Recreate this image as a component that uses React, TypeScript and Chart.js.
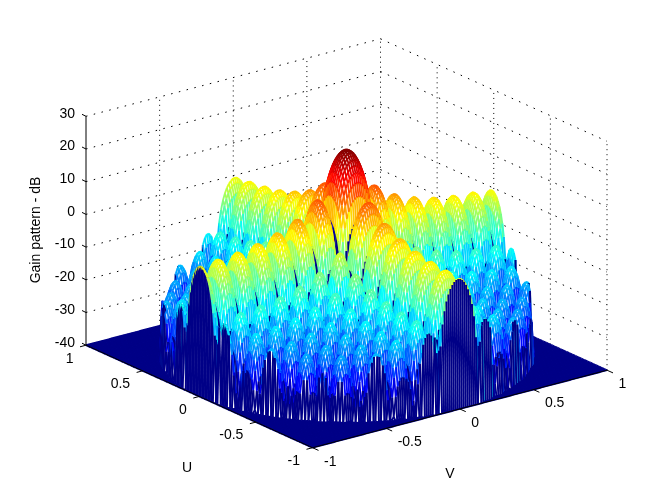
import { useEffect, useRef } from "react";
import { Chart, registerables } from "chart.js";

Chart.register(...registerables);

// Lobes sit on a square lattice, so a grid node is peak + cut(U) + cut(V).
const cutU = [
  0, -0.1, -0.6, -1.3, -2.4, -3.9, -5.9, -8.7, -12.6, -19.2, -60,
  -20.9, -16.0, -14.0, -13.2, -13.3, -14.3, -16.2, -19.4, -25.5, -60,
  -26.3, -21.1, -18.7, -17.6, -17.5, -18.3, -19.9, -23.0, -28.9, -60,
  -29.4, -24.0, -21.5, -20.3, -20.0, -20.7, -22.3, -25.2, -31.0, -60,
  -31.3, -25.9, -23.2, -22.0, -21.7, -22.3, -23.8, -26.7, -32.4, -60,
  -32.6, -27.1, -24.4, -23.1, -22.7, -23.3, -24.7, -27.6, -33.2, -60,
  -33.3, -27.8, -25.1, -23.7, -23.3, -23.8, -25.2, -28.0, -33.7, -60,
  -33.7, -28.1, -25.4, -24.0, -23.5,
];
const cutV = cutU;
const peakGain = 23.5;
const floorGain = -40;

const uTicks = [1, 0.5, 0, -0.5, -1];
const vTicks = [-1, -0.5, 0, 0.5, 1];
const zTicks = [30, 20, 10, 0, -10, -20, -30, -40];

const uTitle = "U";
const vTitle = "V";
const zTitle = "Gain pattern - dB";

const meshWidth = 1.8;
const wallWidth = 2;

// view of the box on the page
function project(u: number, v: number, z: number) {
  return {
    x: 346.5 - 113.25 * u + 147.25 * v,
    y: 357.7 - 51.25 * u - 38.75 * v - (z + 40) * 3.27,
  };
}

function jet(z: number) {
  const idx = Math.min(63, Math.max(0, Math.floor(((z - floorGain) / (peakGain - floorGain)) * 64)));
  const t = (idx + 0.5) / 64;
  const c = (a: number) => Math.round(255 * Math.max(0, Math.min(1, a)));
  return `rgb(${c(Math.min(4 * t - 1.5, -4 * t + 4.5))},${c(Math.min(4 * t - 0.5, -4 * t + 3.5))},${c(Math.min(4 * t + 0.5, -4 * t + 2.5))})`;
}

// flat edge colour: every mesh edge takes the colour of its first node
function edgeWidth(first: number, second: number) {
  return first <= floorGain && second > floorGain ? wallWidth : meshWidth;
}

const n = cutU.length - 1;

function gain(i: number, j: number) {
  const u = i / n;
  const v = j / n;
  if (u * u + v * v > 0.9999) return floorGain;
  return Math.max(floorGain, peakGain + cutU[Math.abs(i)] + cutV[Math.abs(j)]);
}

function surfaceDatasets() {
  const out: any[] = [];
  // front row first: chart.js paints the last dataset first
  for (let i = -n; i <= n; i++) {
    const u = i / n;
    const zs: number[] = [];
    const pts: { x: number; y: number }[] = [];
    for (let j = -n; j <= n; j++) {
      const z = gain(i, j);
      zs.push(z);
      pts.push(project(u, j / n, z));
    }
    out.push({
      data: pts,
      showLine: true,
      pointRadius: 0,
      borderWidth: meshWidth,
      borderColor: jet(floorGain),
      segment: {
        borderColor: (ctx: any) => jet(zs[ctx.p0DataIndex]),
        borderWidth: (ctx: any) => edgeWidth(zs[ctx.p0DataIndex], zs[ctx.p1DataIndex]),
      },
    });
    out.push({
      data: pts,
      showLine: true,
      pointRadius: 0,
      borderWidth: 0,
      backgroundColor: "#fff",
      fill: { value: 504, above: "#fff", below: "#fff" },
    });
    // short lines across to the row behind, broken with gaps
    if (i < n) {
      const crossA: number[] = [];
      const crossB: number[] = [];
      const cross: { x: number; y: number }[] = [];
      for (let j = -n; j <= n; j++) {
        const a = zs[j + n];
        const b = gain(i + 1, j);
        cross.push(pts[j + n], project((i + 1) / n, j / n, b), { x: NaN, y: NaN });
        crossA.push(a, a, a);
        crossB.push(b, b, b);
      }
      out.push({
        data: cross,
        showLine: true,
        spanGaps: false,
        pointRadius: 0,
        borderWidth: meshWidth,
        borderColor: jet(floorGain),
        segment: {
          borderColor: (ctx: any) => jet(crossA[ctx.p0DataIndex]),
          borderWidth: (ctx: any) => edgeWidth(crossA[ctx.p0DataIndex], crossB[ctx.p0DataIndex]),
        },
      });
    }
  }
  return out;
}

function line(a: { x: number; y: number }, b: { x: number; y: number }, dash?: number[]) {
  return {
    data: [a, b],
    showLine: true,
    pointRadius: 0,
    borderWidth: 1,
    borderColor: "#000",
    borderDash: dash || [],
  };
}

function gridDatasets() {
  const out: any[] = [];
  const top = zTicks[0];
  const bottom = zTicks[zTicks.length - 1];
  vTicks.forEach((v) => {
    if (v !== -1) out.push(line(project(1, v, bottom), project(1, v, top), [1, 4]));
  });
  uTicks.forEach((u) => {
    if (u !== 1) out.push(line(project(u, 1, bottom), project(u, 1, top), [1, 4]));
  });
  zTicks.forEach((z) => {
    out.push(line(project(1, -1, z), project(1, 1, z), [1.5, 6.5]));
    out.push(line(project(1, 1, z), project(-1, 1, z), [1.5, 6.5]));
  });
  return out;
}

function axisDatasets() {
  const out: any[] = [];
  out.push(line(project(1, -1, -40), project(1, -1, 30)));
  out.push(line(project(1, -1, -40), project(-1, -1, -40)));
  out.push(line(project(-1, -1, -40), project(-1, 1, -40)));
  zTicks.forEach((z) => {
    const p = project(1, -1, z);
    out.push(line(p, { x: p.x - 4, y: p.y - 2 }));
  });
  uTicks.forEach((u) => {
    const p = project(u, -1, -40);
    out.push(line(p, { x: p.x - 6, y: p.y + 1.6 }));
  });
  vTicks.forEach((v) => {
    const p = project(-1, v, -40);
    out.push(line(p, { x: p.x + 6, y: p.y + 2.7 }));
  });
  return out;
}

const labelsPlugin = {
  id: "boxLabels",
  afterDraw(chart: any) {
    const ctx = chart.ctx;
    ctx.save();
    ctx.fillStyle = "#000";
    ctx.font = '14px "Liberation Sans"';
    ctx.textBaseline = "middle";

    ctx.textAlign = "right";
    zTicks.forEach((z) => {
      ctx.fillText(String(z), 75, project(1, -1, z).y - 2.5);
    });
    uTicks.forEach((u) => {
      const p = project(u, -1, -40);
      ctx.fillText(String(u), p.x - 12.5, p.y + 13.5);
    });
    ctx.textAlign = "left";
    vTicks.forEach((v) => {
      const p = project(-1, v, -40);
      ctx.fillText(String(v), p.x + 11.5, p.y + 14);
    });

    ctx.textAlign = "center";
    ctx.fillText(uTitle, 187, 468);
    ctx.fillText(vTitle, 450, 474);
    ctx.translate(36, 230);
    ctx.rotate(-Math.PI / 2);
    ctx.fillText(zTitle, 0, 0);
    ctx.restore();
  },
};

export default function App() {
  const chartRef = useRef<HTMLCanvasElement>(null);

  useEffect(() => {
    if (!chartRef.current) return;
    document.body.style.margin = "0";
    document.body.style.background = "#fff";

    const chart = new Chart(chartRef.current, {
      type: "scatter",
      data: {
        datasets: [...axisDatasets(), ...surfaceDatasets(), ...gridDatasets()],
      },
      options: {
        responsive: false,
        animation: false,
        devicePixelRatio: 1,
        events: [],
        layout: { padding: 0 },
        plugins: { legend: { display: false }, tooltip: { enabled: false } },
        scales: {
          x: { type: "linear", min: 0, max: 672, display: false },
          y: { type: "linear", min: 0, max: 504, reverse: true, display: false },
        },
      },
      plugins: [labelsPlugin],
    } as any);

    return () => {
      chart.destroy();
    };
  }, []);

  return <canvas ref={chartRef} width={672} height={504} style={{ display: "block" }} />;
}
